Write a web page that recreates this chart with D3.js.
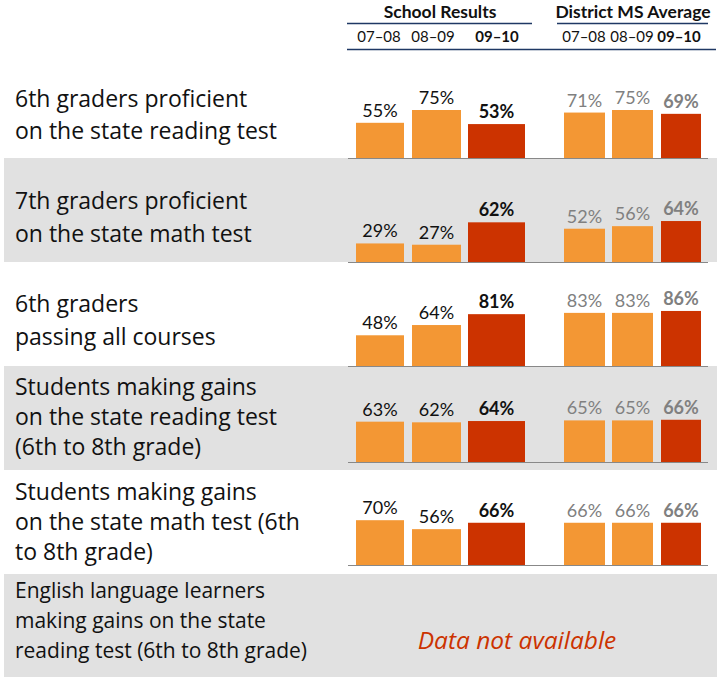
<!DOCTYPE html>
<html>
<head>
<meta charset="utf-8">
<script src="https://cdn.jsdelivr.net/npm/d3@7"></script>
<style>
  html, body { margin: 0; padding: 0; background: #fff; }
  svg { display: block; }
  text { font-family: Lato, "Open Sans", sans-serif; }
  .cat, .na { font-family: "Open Sans", Lato, sans-serif; }
</style>
</head>
<body>
<svg id="chart" width="725" height="677"></svg>
<script>
// ---- data ----
const years = ["07–08", "08–09", "09–10"];
const groups = ["School Results", "District MS Average"];
const categories = [
  ["6th graders proficient", "on the state reading test"],
  ["7th graders proficient", "on the state math test"],
  ["6th graders", "passing all courses"],
  ["Students making gains", "on the state reading test", "(6th to 8th grade)"],
  ["Students making gains", "on the state math test (6th", "to 8th grade)"],
  ["English language learners", "making gains on the state", "reading test (6th to 8th grade)"]
];
const schoolValues = [
  [55, 75, 53],
  [29, 27, 62],
  [48, 64, 81],
  [63, 62, 64],
  [70, 56, 66],
  null
];
const districtValues = [
  [71, 75, 69],
  [52, 56, 64],
  [83, 83, 86],
  [65, 65, 66],
  [66, 66, 66],
  null
];
const missingText = "Data not available";

// ---- layout ----
const rowTops = [50, 158, 262, 366, 470, 574];
const rowBottoms = [158, 262, 366, 470, 574, 677];
const baselines = [158, 262, 366, 462, 565];
const textBaselines = [[107, 139], [209, 242], [312, 345], [395, 425, 455], [500, 530, 560], [598, 628, 658]];
const catFontSizes = [23, 23, 23, 23, 23, 21];
const barExtents = {
  "School Results": [[356, 404], [412, 461], [468, 525]],
  "District MS Average": [[564, 605], [612, 653], [661, 701]]
};
const headerCenters = { "School Results": 440, "District MS Average": 633 };
const yearCenters = {
  "School Results": [379, 433, 497],
  "District MS Average": [584, 632, 679]
};
const colors = { prior: "#F39734", current: "#CC3300" };
const navy = "#1F3864";

const svg = d3.select("#chart");
const h = d3.scaleLinear().domain([0, 100]).range([0, 64]);

// row backgrounds
svg.selectAll("rect.bg")
  .data(categories.map((c, i) => i).filter(i => i % 2 === 1))
  .join("rect")
  .attr("class", "bg")
  .attr("x", 4).attr("width", 713)
  .attr("y", i => rowTops[i]).attr("height", i => rowBottoms[i] - rowTops[i])
  .attr("fill", "#E1E1E1");

// header
groups.forEach(g => {
  svg.append("text")
    .attr("x", headerCenters[g]).attr("y", 18)
    .attr("text-anchor", "middle")
    .attr("font-size", 17.5).attr("font-weight", "bold")
    .attr("fill", "#111")
    .text(g);
  years.forEach((y, j) => {
    svg.append("text")
      .attr("x", yearCenters[g][j]).attr("y", 42)
      .attr("text-anchor", "middle")
      .attr("font-size", 15)
      .attr("font-weight", j === 2 ? "bold" : "normal")
      .attr("fill", "#111")
      .text(y);
  });
});
svg.append("line").attr("x1", 347).attr("x2", 532).attr("y1", 23.5).attr("y2", 23.5)
  .attr("stroke", navy).attr("stroke-width", 1.6);
svg.append("line").attr("x1", 557).attr("x2", 708).attr("y1", 23.5).attr("y2", 23.5)
  .attr("stroke", navy).attr("stroke-width", 1.6);
svg.append("line").attr("x1", 347).attr("x2", 716).attr("y1", 49.5).attr("y2", 49.5)
  .attr("stroke", navy).attr("stroke-width", 1.6);

// category labels
categories.forEach((lines, i) => {
  const t = svg.append("text").attr("class", "cat").attr("font-size", catFontSizes[i]).attr("fill", "#111");
  lines.forEach((ln, k) => {
    t.append("tspan").attr("x", 15).attr("y", textBaselines[i][k]).text(ln);
  });
});

// bars
const seriesByGroup = { "School Results": schoolValues, "District MS Average": districtValues };
categories.forEach((c, i) => {
  if (!schoolValues[i]) {
    svg.append("text")
      .attr("class", "na")
      .attr("x", 517).attr("y", 649)
      .attr("text-anchor", "middle")
      .attr("font-size", 24.5).attr("font-style", "italic")
      .attr("fill", "#CC3300")
      .text(missingText);
    return;
  }
  const base = baselines[i];
  groups.forEach(g => {
    const vals = seriesByGroup[g][i];
    const ext = barExtents[g];
    const gg = svg.append("g");
    gg.selectAll("rect").data(vals).join("rect")
      .attr("x", (d, j) => ext[j][0])
      .attr("width", (d, j) => ext[j][1] - ext[j][0])
      .attr("y", d => base - h(d))
      .attr("height", d => h(d))
      .attr("fill", (d, j) => j === 2 ? colors.current : colors.prior);
    gg.selectAll("text").data(vals).join("text")
      .attr("x", (d, j) => (ext[j][0] + ext[j][1]) / 2)
      .attr("y", d => base - h(d) - 6)
      .attr("text-anchor", "middle")
      .attr("font-size", 18)
      .attr("font-weight", (d, j) => j === 2 ? "bold" : "normal")
      .attr("fill", g === "School Results" ? "#111" : "#808080")
      .text(d => d + "%");
  });
  svg.append("line")
    .attr("x1", 348).attr("x2", 708)
    .attr("y1", base + 0.5).attr("y2", base + 0.5)
    .attr("stroke", "#888").attr("stroke-width", 1.2);
});
</script>
</body>
</html>
